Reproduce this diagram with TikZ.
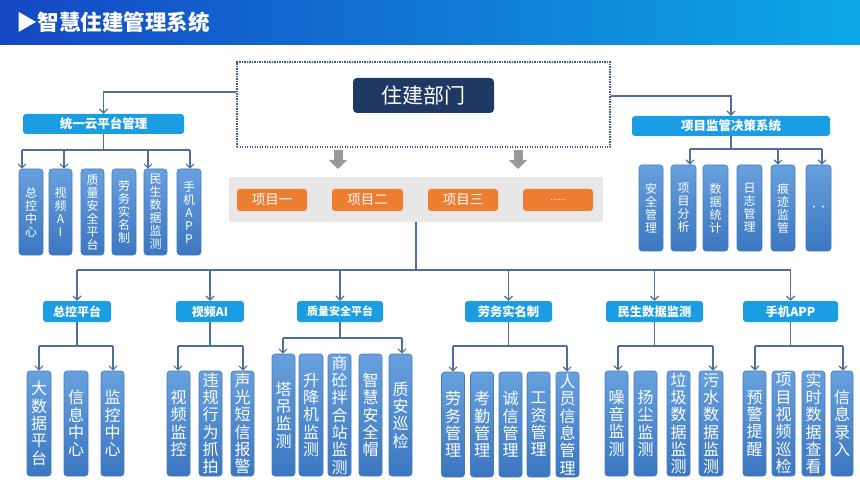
\documentclass[tikz,border=0pt]{standalone}
\usepackage{fontspec}
\setmainfont{Noto Sans CJK SC}
\usetikzlibrary{arrows.meta}
\definecolor{hdrL}{HTML}{1547C4}
\definecolor{hdrR}{HTML}{0CA8E6}
\definecolor{navy}{HTML}{1F3864}
\definecolor{sky}{HTML}{1A9DE3}
\definecolor{orng}{HTML}{ED7D31}
\definecolor{bandg}{HTML}{E7E7E7}
\definecolor{garr}{HTML}{999999}
\definecolor{lc}{HTML}{4D6F9C}
\definecolor{dotc}{HTML}{3A5A8C}
\definecolor{bxT}{HTML}{67A0DD}
\definecolor{bxB}{HTML}{3B77C1}
\definecolor{bxD}{HTML}{4A7BB8}
\newcommand\vbx[6]{\node[vbox, minimum width=#4, minimum height=#5] (#1) at (#2,#3) {#6};}
\begin{document}
\begin{tikzpicture}[x=1pt,y=-1pt,
  ln/.style={draw=lc, line width=1.2pt},
  arr/.style={draw=lc, line width=1.2pt, -{Straight Barb[length=4pt,width=8pt]}},
  garrow/.style={draw=garr, line width=9pt, -{Triangle[length=9pt,width=18pt]}},
  vbox/.style={rectangle, rounded corners=3pt, top color=bxT, bottom color=bxB, draw=bxD, line width=0.6pt, inner sep=0pt, text=white, align=center},
  sm/.style={font=\fontsize{12}{13}\selectfont},
  lg/.style={font=\fontsize{16}{17.3}\selectfont},
  skybox/.style={rectangle, rounded corners=3pt, fill=sky, inner sep=0pt, text=white, font=\bfseries\fontsize{12.5}{14}\selectfont},
  obox/.style={rectangle, rounded corners=3pt, fill=orng, inner sep=0pt, text=white, minimum width=70, minimum height=22, font=\fontsize{13.5}{15}\selectfont}
]
\useasboundingbox (0,0) rectangle (860,484);
% header
\shade[left color=hdrL, right color=hdrR] (0,0) rectangle (860,45);
\node[anchor=west, text=white, inner sep=0pt, font=\bfseries\fontsize{21.5}{24}\selectfont] (title) at (16,22) {▶智慧住建管理系统};

% dotted frame and top node
\node[draw=dotc, line width=1.3pt, dash pattern=on 1.3pt off 1.2pt, minimum width=373, minimum height=85, inner sep=0pt] (dot) at (423.5,104.5) {};
\node[rectangle, rounded corners=4pt, fill=navy, text=white, minimum width=141, minimum height=35, inner sep=0pt, font=\fontsize{21}{24}\selectfont] (zj) at (423.5,95.5) {住建部门};

% left top system
\node[skybox, minimum width=161, minimum height=20] (tyy) at (103.5,124) {统一云平台管理};
\coordinate (lk) at (103.5,92);
\draw[arr] (lk -| dot.west) -- (lk) -- (tyy.north);
\begin{scope}[vbox/.append style={sm}]
\vbx{a1}{31}{212}{24}{86}{总\\控\\中\\心}
\vbx{a2}{60.5}{212}{23}{86}{视\\频\\A\\I}
\vbx{a3}{92.5}{212}{23}{86}{质\\量\\安\\全\\平\\台}
\vbx{a4}{124}{212}{24}{86}{劳\\务\\实\\名\\制}
\vbx{a5}{155.5}{212}{23}{86}{民\\生\\数\\据\\监\\测}
\vbx{a6}{189}{212}{24}{86}{手\\机\\A\\P\\P}
\end{scope}
\coordinate (lb1) at (22,150);
\coordinate (lb2) at (64,150);
\coordinate (lb3) at (148,150);
\coordinate (lb4) at (190,150);
\draw[ln] (tyy.south) -- (tyy.south |- lb1);
\draw[ln] (lb1) -- (lb4);
\draw[arr] (lb1) -- (lb1 |- a1.north);
\draw[arr] (lb2) -- (lb2 |- a2.north);
\draw[arr] (lb3) -- (lb3 |- a5.north);
\draw[arr] (lb4) -- (lb4 |- a6.north);

% right top system
\node[skybox, minimum width=198, minimum height=20] (xmjg) at (731,126) {项目监管决策系统};
\coordinate (rk) at (731,96);
\draw[arr] (rk -| dot.east) -- (rk) -- (xmjg.north);
\begin{scope}[vbox/.append style={sm}]
\vbx{b1}{651}{208}{24}{86}{安\\全\\管\\理}
\vbx{b2}{683.5}{208}{25}{86}{项\\目\\分\\析}
\vbx{b3}{715.5}{208}{25}{86}{数\\据\\统\\计}
\vbx{b4}{749.5}{208}{25}{86}{日\\志\\管\\理}
\vbx{b5}{783}{208}{24}{86}{痕\\迹\\监\\管}
\vbx{b6}{818.5}{208}{25}{86}{{\fontsize{9}{10}\selectfont ··}}
\end{scope}
\coordinate (rb1) at (690,149);
\coordinate (rb2) at (778,149);
\coordinate (rb3) at (822,149);
\draw[ln] (xmjg.south) -- (xmjg.south |- rb1);
\draw[ln] (rb1) -- (rb3);
\draw[arr] (rb1) -- (rb1 |- b2.north);
\draw[arr] (rb2) -- (rb2 |- b5.north);
\draw[arr] (rb3) -- (rb3 |- b6.north);

% projects band
\node[rectangle, fill=bandg, minimum width=374, minimum height=45, inner sep=0pt] (band) at (416,199.5) {};
\node[obox] (p1) at (272,200) {项目一};
\node[obox, minimum width=71] (p2) at (367.5,200) {项目二};
\node[obox] (p3) at (463,200) {项目三};
\node[obox, font=\fontsize{9}{10}\selectfont] (p4) at (558,200) {......};
\coordinate (ga1) at (338,150);
\coordinate (ga2) at (518,150);
\draw[garrow] (ga1) -- ++(0,19);
\draw[garrow] (ga2) -- ++(0,19);

% level 2
\node[skybox, minimum width=68, minimum height=21, font=\bfseries\fontsize{12}{14}\selectfont] (c1) at (77,311.5) {总控平台};
\node[skybox, minimum width=68, minimum height=21, font=\bfseries\fontsize{12}{14}\selectfont] (c2) at (210,311.5) {视频AI};
\node[skybox, minimum width=86, minimum height=21, font=\bfseries\fontsize{11}{13}\selectfont] (c3) at (340,311.5) {质量安全平台};
\node[skybox, minimum width=87, minimum height=21, font=\bfseries\fontsize{12.3}{14}\selectfont] (c4) at (508.5,311.5) {劳务实名制};
\node[skybox, minimum width=97, minimum height=21, font=\bfseries\fontsize{12.3}{14}\selectfont] (c5) at (654.5,311.5) {民生数据监测};
\node[skybox, minimum width=95, minimum height=21, font=\bfseries\fontsize{12.3}{14}\selectfont] (c6) at (790.5,311.5) {手机APP};
\coordinate (m1) at (77,270);
\coordinate (m6) at (790.5,270);
\draw[ln] (band.south) -- (band.south |- m1);
\draw[ln] (m1) -- (m6);
\foreach \c in {c1,c2,c3,c4,c5,c6} \draw[arr] (m1 -| \c.north) -- (\c.north);

% level 3
\begin{scope}[vbox/.append style={lg}]
\vbx{d11}{39}{423.5}{24}{105}{大\\数\\据\\平\\台}
\vbx{d12}{76}{423.5}{24}{105}{信\\息\\中\\心}
\vbx{d13}{112.5}{423.5}{23}{105}{监\\控\\中\\心}
\vbx{d21}{178.5}{423.5}{23}{105}{视\\频\\监\\控}
\vbx{d22}{210.5}{423.5}{23}{105}{违\\规\\行\\为\\抓\\拍}
\vbx{d23}{242.5}{423.5}{23}{105}{声\\光\\短\\信\\报\\警}
\vbx{d31}{283.5}{415}{23}{122}{塔\\吊\\监\\测}
\vbx{d32}{311}{415}{24}{122}{升\\降\\机\\监\\测}
\vbx{d33}{339.5}{415}{23}{122}{商\\砼\\拌\\合\\站\\监\\测}
\vbx{d34}{370.5}{415}{23}{122}{智\\慧\\安\\全\\帽}
\vbx{d35}{400.5}{415}{23}{122}{质\\安\\巡\\检}
\vbx{d41}{453}{424.5}{23}{105}{劳\\务\\管\\理}
\vbx{d42}{482}{424.5}{23}{105}{考\\勤\\管\\理}
\vbx{d43}{510.5}{424.5}{23}{105}{诚\\信\\管\\理}
\vbx{d44}{538.5}{424.5}{23}{105}{工\\资\\管\\理}
\vbx{d45}{567.5}{424.5}{23}{105}{人\\员\\信\\息\\管\\理}
\vbx{d51}{616.5}{423.5}{23}{105}{噪\\音\\监\\测}
\vbx{d52}{645.5}{423.5}{23}{105}{扬\\尘\\监\\测}
\vbx{d53}{678.5}{423.5}{23}{105}{垃\\圾\\数\\据\\监\\测}
\vbx{d54}{711}{423.5}{24}{105}{污\\水\\数\\据\\监\\测}
\vbx{d61}{754.5}{423.5}{23}{105}{预\\警\\提\\醒}
\vbx{d62}{783.5}{423.5}{23}{105}{项\\目\\视\\频\\巡\\检}
\vbx{d63}{813.5}{423.5}{23}{105}{实\\时\\数\\据\\查\\看}
\vbx{d64}{842}{423.5}{22}{105}{信\\息\\录\\入}
\end{scope}
% group buses
\coordinate (g1a) at (39,346);   \coordinate (g1b) at (113,346);
\coordinate (g2a) at (178,346);  \coordinate (g2b) at (243,346);
\coordinate (g3a) at (283,338);  \coordinate (g3b) at (402,338);
\coordinate (g4a) at (453,346);  \coordinate (g4b) at (567,346);
\coordinate (g5a) at (618,346);  \coordinate (g5b) at (713,346);
\coordinate (g6a) at (755,346);  \coordinate (g6b) at (843,346);
\draw[ln] (c1.south) -- (c1.south |- g1a);  \draw[ln] (g1a) -- (g1b);
\draw[arr] (g1a) -- (g1a |- d11.north);     \draw[arr] (g1b) -- (g1b |- d13.north);
\draw[ln] (c2.south) -- (c2.south |- g2a);  \draw[ln] (g2a) -- (g2b);
\draw[arr] (g2a) -- (g2a |- d21.north);     \draw[arr] (g2b) -- (g2b |- d23.north);
\draw[ln] (c3.south) -- (c3.south |- g3a);  \draw[ln] (g3a) -- (g3b);
\draw[arr] (g3a) -- (g3a |- d31.north);     \draw[arr] (g3b) -- (g3b |- d35.north);
\draw[ln] (c4.south) -- (c4.south |- g4a);  \draw[ln] (g4a) -- (g4b);
\draw[arr] (g4a) -- (g4a |- d41.north);     \draw[arr] (g4b) -- (g4b |- d45.north);
\draw[ln] (c5.south) -- (c5.south |- g5a);  \draw[ln] (g5a) -- (g5b);
\draw[arr] (g5a) -- (g5a |- d51.north);     \draw[arr] (g5b) -- (g5b |- d54.north);
\draw[ln] (c6.south) -- (c6.south |- g6a);  \draw[ln] (g6a) -- (g6b);
\draw[arr] (g6a) -- (g6a |- d61.north);     \draw[arr] (g6b) -- (g6b |- d64.north);
\end{tikzpicture}
\end{document}
